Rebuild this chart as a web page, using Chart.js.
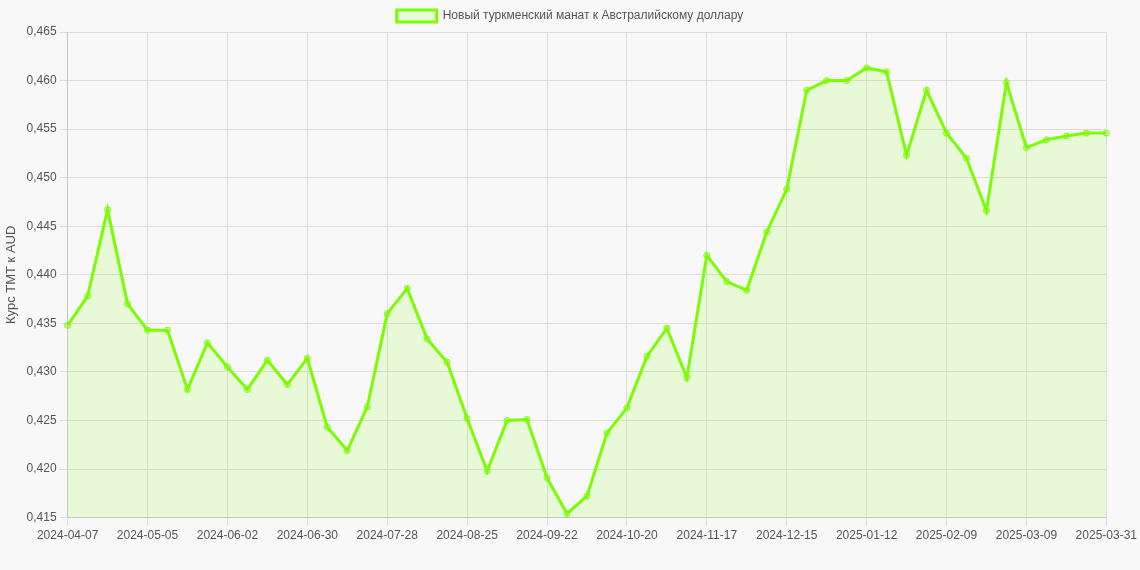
<!DOCTYPE html>
<html>
<head>
<meta charset="utf-8">
<script src="https://cdn.jsdelivr.net/npm/chart.js@4"></script>
<style>
  html, body { margin: 0; padding: 0; background: #f8f8f8; }
  #wrap { width: 1140px; height: 570px; }
</style>
</head>
<body>
<div id="wrap"><canvas id="chart"></canvas></div>
<script>
const labels = [
  "2024-04-07","2024-04-14","2024-04-21","2024-04-28","2024-05-05","2024-05-12","2024-05-19","2024-05-26",
  "2024-06-02","2024-06-09","2024-06-16","2024-06-23","2024-06-30","2024-07-07","2024-07-14","2024-07-21",
  "2024-07-28","2024-08-04","2024-08-11","2024-08-18","2024-08-25","2024-09-01","2024-09-08","2024-09-15",
  "2024-09-22","2024-09-29","2024-10-06","2024-10-13","2024-10-20","2024-10-27","2024-11-03","2024-11-10",
  "2024-11-17","2024-11-24","2024-12-01","2024-12-08","2024-12-15","2024-12-22","2024-12-29","2025-01-05",
  "2025-01-12","2025-01-19","2025-01-26","2025-02-02","2025-02-09","2025-02-16","2025-02-23","2025-03-02",
  "2025-03-09","2025-03-16","2025-03-23","2025-03-30","2025-03-31"
];
const rates = [
  0.4348, 0.4378, 0.4467, 0.4370, 0.4343, 0.4343, 0.4282, 0.4330,
  0.4305, 0.4282, 0.4312, 0.4287, 0.4314, 0.4243, 0.4219, 0.4264,
  0.4360, 0.4386, 0.4334, 0.4310, 0.4252, 0.4198, 0.4250, 0.4251,
  0.4191, 0.4154, 0.4172, 0.4237, 0.4263, 0.4316, 0.4345, 0.4294,
  0.4420, 0.4393, 0.4384, 0.4444, 0.4488, 0.4590, 0.4600, 0.4600,
  0.4613, 0.4609, 0.4523, 0.4590, 0.4546, 0.4520, 0.4466, 0.4598,
  0.4531, 0.4539, 0.4543, 0.4546, 0.4546
];

new Chart(document.getElementById("chart"), {
  type: "line",
  data: {
    labels: labels,
    datasets: [{
      label: "Новый туркменский манат к Австралийскому доллару",
      data: rates,
      borderColor: "#7CFC00",
      backgroundColor: "rgba(124,252,0,0.13)",
      borderWidth: 3,
      fill: true,
      tension: 0,
      pointRadius: 3,
      pointBorderWidth: 1,
      pointBackgroundColor: "rgba(124,252,0,0.2)",
      pointBorderColor: "#7CFC00"
    }]
  },
  options: {
    responsive: true,
    maintainAspectRatio: false,
    animation: false,
    layout: { padding: { bottom: 24 } },
    plugins: {
      legend: {
        labels: { color: "#555", font: { family: "Arial, Liberation Sans", size: 12 } }
      }
    },
    scales: {
      x: {
        offset: false,
        grid: { color: "#ddd" },
        ticks: {
          autoSkip: false,
          maxRotation: 0,
          color: "#555",
          font: { family: "Arial, Liberation Sans", size: 12 },
          callback: function (v, i) { return i % 4 === 0 ? labels[i] : null; }
        }
      },
      y: {
        min: 0.415,
        max: 0.465,
        grid: { color: "#ddd" },
        ticks: {
          stepSize: 0.005,
          color: "#555",
          font: { family: "Arial, Liberation Sans", size: 12 },
          callback: v => v.toFixed(3).replace(".", ",")
        },
        title: {
          display: true,
          text: "Курс TMT к AUD",
          color: "#555",
          font: { family: "Arial, Liberation Sans", size: 13 }
        }
      }
    }
  }
});
</script>
</body>
</html>
